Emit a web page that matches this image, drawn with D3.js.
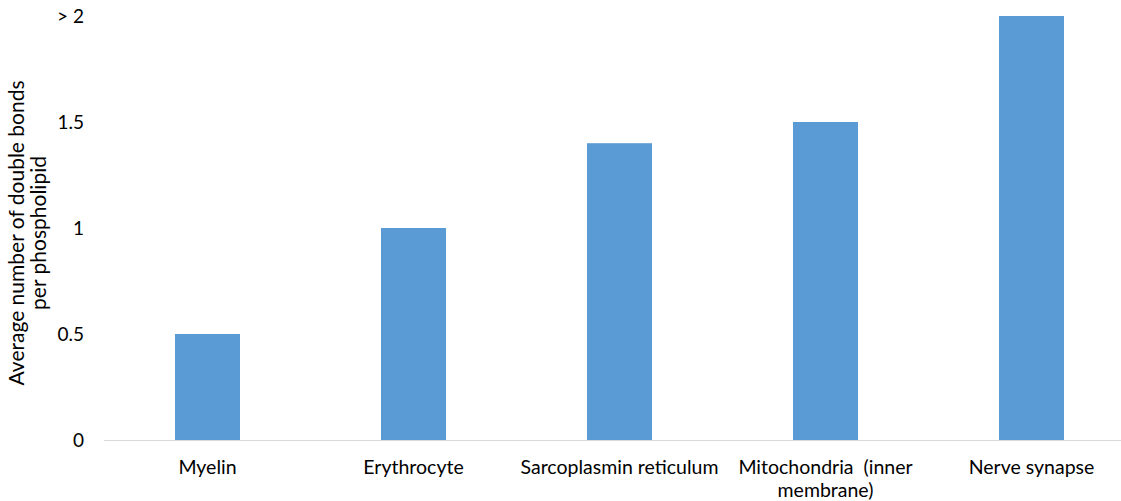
<!DOCTYPE html>
<html><head><meta charset="utf-8">
<script src="https://cdn.jsdelivr.net/npm/d3@7"></script>
<style>body{margin:0;background:#fff}svg{display:block}text{font-family:Lato,"Open Sans",sans-serif;fill:#000}</style>
</head><body><svg id="c" width="1121" height="501"></svg>
<script>
const categories = ["Myelin", "Erythrocyte", "Sarcoplasmin reticulum", "Mitochondria (inner membrane)", "Nerve synapse"];
const categoryLines = [["Myelin"], ["Erythrocyte"], ["Sarcoplasmin reticulum"], ["Mitochondria  (inner", "membrane)"], ["Nerve synapse"]];
const values = [0.5, 1.0, 1.4, 1.5, 2.0];
const tickValues = [0, 0.5, 1, 1.5, 2];
const tickLabels = ["0", "0.5", "1", "1.5", "> 2"];
const yTitle = ["Average number of double bonds", "per phospholipid"];

const svg = d3.select("#c");
const p = 0.6845;
const x = d3.scaleBand().domain(categories).range([104.5, 1134.5]).paddingInner(p).paddingOuter(p/2);
const y = d3.scaleLinear().domain([0, 2]).range([440, 16]);

svg.selectAll("rect.bar").data(values).enter().append("rect")
  .attr("class","bar")
  .attr("x",(d,i)=>x(categories[i]))
  .attr("width",x.bandwidth())
  .attr("y",d=>y(d))
  .attr("height",d=>y(0)-y(d))
  .attr("fill","#5B9BD5");

svg.append("line").attr("x1",104).attr("x2",1121).attr("y1",y(0)+0.5).attr("y2",y(0)+0.5)
  .attr("stroke","#D9D9D9").attr("stroke-width",1);

svg.selectAll("text.yt").data(tickValues).enter().append("text")
  .attr("class","yt").attr("x",84).attr("y",d=>y(d)).attr("dy","0.35em")
  .attr("text-anchor","end").style("font-size","19px").text((d,i)=>tickLabels[i]);

categories.forEach((c,i)=>{
  const t = svg.append("text").attr("x",x(c)+x.bandwidth()/2).attr("y",474)
    .attr("text-anchor","middle").style("font-size","19.5px");
  categoryLines[i].forEach((l,j)=>t.append("tspan").attr("x",x(c)+x.bandwidth()/2).attr("dy",j?"1.2em":0).text(l).attr("xml:space","preserve"));
});

const yt = svg.append("text").attr("transform","translate(24,233) rotate(-90)")
  .attr("text-anchor","middle").style("font-size","21px");
yTitle.forEach((l,j)=>yt.append("tspan").attr("x",0).attr("dy",j?"1.05em":0).text(l));
</script></body></html>
